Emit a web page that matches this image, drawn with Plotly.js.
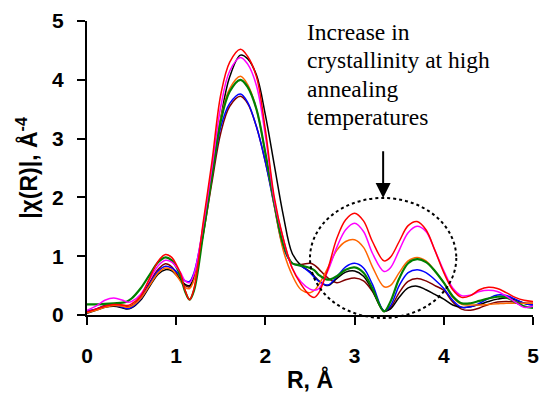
<!DOCTYPE html>
<html>
<head>
<meta charset="utf-8">
<script src="https://cdn.plot.ly/plotly-3.0.1.min.js"></script>
<style>html,body{margin:0;padding:0;background:#fff;}#chart{width:541px;height:394px;}</style>
</head>
<body>
<div id="chart"></div>
<script>
// R grid (Å)
const R = [0, 0.1, 0.2, 0.3, 0.4, 0.45, 0.5, 0.6, 0.7, 0.8, 0.88, 0.95, 1.0, 1.05, 1.1, 1.15, 1.2, 1.3, 1.4, 1.5, 1.6, 1.72, 1.8, 1.9, 2.0, 2.1, 2.2, 2.3, 2.4, 2.5, 2.55, 2.6, 2.7, 2.8, 2.9, 3.0, 3.1, 3.2, 3.33, 3.4, 3.5, 3.6, 3.7, 3.8, 3.9, 4.0, 4.1, 4.2, 4.3, 4.4, 4.5, 4.6, 4.7, 4.8, 4.9, 5.0];

const redY = [0.05, 0.10, 0.15, 0.18, 0.17, 0.16, 0.19, 0.32, 0.62, 0.92, 1.03, 0.98, 0.86, 0.70, 0.42, 0.26, 0.45, 1.55, 2.60, 3.75, 4.30, 4.52, 4.40, 4.05, 3.15, 2.00, 1.30, 0.80, 0.52, 0.33, 0.30, 0.38, 0.78, 1.30, 1.62, 1.73, 1.60, 1.25, 0.92, 0.98, 1.25, 1.52, 1.59, 1.45, 1.10, 0.72, 0.43, 0.30, 0.33, 0.43, 0.47, 0.45, 0.38, 0.30, 0.25, 0.23];

const magentaY = [0.08, 0.15, 0.25, 0.29, 0.25, 0.22, 0.23, 0.35, 0.60, 0.84, 0.93, 0.90, 0.82, 0.72, 0.58, 0.55, 0.70, 1.50, 2.50, 3.55, 4.15, 4.38, 4.27, 3.90, 3.05, 1.95, 1.30, 0.80, 0.56, 0.44, 0.42, 0.45, 0.75, 1.15, 1.45, 1.56, 1.42, 1.05, 0.74, 0.80, 1.10, 1.40, 1.51, 1.42, 1.10, 0.75, 0.46, 0.33, 0.34, 0.40, 0.42, 0.40, 0.32, 0.22, 0.13, 0.15];

const blackY = [0.03, 0.08, 0.13, 0.15, 0.12, 0.10, 0.12, 0.25, 0.48, 0.70, 0.77, 0.75, 0.68, 0.60, 0.52, 0.50, 0.65, 1.40, 2.35, 3.35, 4.05, 4.42, 4.36, 4.08, 3.40, 2.55, 1.70, 1.05, 0.84, 0.74, 0.66, 0.58, 0.50, 0.62, 0.73, 0.75, 0.66, 0.42, 0.07, 0.10, 0.30, 0.46, 0.49, 0.43, 0.35, 0.27, 0.17, 0.13, 0.14, 0.18, 0.23, 0.27, 0.29, 0.26, 0.20, 0.17];

const orangeY = [0.04, 0.08, 0.13, 0.16, 0.15, 0.13, 0.15, 0.28, 0.50, 0.72, 0.80, 0.77, 0.68, 0.57, 0.47, 0.45, 0.60, 1.35, 2.35, 3.35, 3.85, 4.06, 3.92, 3.50, 2.75, 1.85, 1.10, 0.68, 0.43, 0.38, 0.42, 0.52, 0.80, 1.10, 1.25, 1.28, 1.15, 0.82, 0.48, 0.50, 0.72, 0.92, 0.98, 0.92, 0.75, 0.55, 0.30, 0.18, 0.17, 0.17, 0.18, 0.19, 0.20, 0.20, 0.20, 0.20];

const greenY = [0.18, 0.18, 0.19, 0.20, 0.21, 0.23, 0.28, 0.45, 0.68, 0.90, 0.98, 0.93, 0.82, 0.65, 0.40, 0.26, 0.42, 1.35, 2.35, 3.30, 3.80, 4.00, 3.88, 3.50, 2.75, 1.90, 1.20, 0.88, 0.84, 0.80, 0.76, 0.68, 0.60, 0.66, 0.77, 0.81, 0.72, 0.45, 0.06, 0.22, 0.62, 0.88, 0.95, 0.90, 0.75, 0.55, 0.32, 0.20, 0.20, 0.24, 0.28, 0.31, 0.30, 0.22, 0.15, 0.12];

const blueY = [0.07, 0.10, 0.15, 0.17, 0.13, 0.11, 0.13, 0.27, 0.52, 0.75, 0.83, 0.80, 0.74, 0.66, 0.58, 0.57, 0.72, 1.45, 2.35, 3.20, 3.60, 3.76, 3.62, 3.20, 2.60, 1.85, 1.15, 0.88, 0.83, 0.72, 0.64, 0.57, 0.51, 0.65, 0.82, 0.88, 0.80, 0.52, 0.07, 0.15, 0.50, 0.72, 0.77, 0.72, 0.60, 0.45, 0.25, 0.13, 0.14, 0.20, 0.28, 0.34, 0.33, 0.27, 0.20, 0.17];

const brownY = [0.05, 0.10, 0.16, 0.18, 0.16, 0.14, 0.16, 0.30, 0.55, 0.78, 0.87, 0.82, 0.72, 0.60, 0.50, 0.48, 0.62, 1.35, 2.25, 3.10, 3.55, 3.72, 3.60, 3.20, 2.60, 1.90, 1.20, 0.88, 0.86, 0.88, 0.85, 0.78, 0.63, 0.55, 0.60, 0.63, 0.58, 0.40, 0.06, 0.12, 0.38, 0.57, 0.62, 0.58, 0.50, 0.42, 0.22, 0.10, 0.08, 0.12, 0.18, 0.22, 0.23, 0.22, 0.20, 0.20];

const xTicks = [0, 1, 2, 3, 4, 5];
const yTicks = [0, 1, 2, 3, 4, 5];

const noteLines = ['Increase in', 'crystallinity at high', 'annealing', 'temperatures'];

const series = [
  {y: brownY, color: '#800000', w: 1.5},
  {y: blackY, color: '#000000', w: 1.5},
  {y: blueY, color: '#0000FF', w: 1.5},
  {y: orangeY, color: '#FF6600', w: 1.5},
  {y: greenY, color: '#008000', w: 2.2},
  {y: magentaY, color: '#FF00FF', w: 1.5},
  {y: redY, color: '#FF0000', w: 1.5}
];

const traces = series.map(s => ({
  x: R, y: s.y, type: 'scatter', mode: 'lines',
  line: {color: s.color, width: s.w, shape: 'spline', smoothing: 1},
  hoverinfo: 'skip', showlegend: false
}));

const tickFont = {family: 'Liberation Sans, Arial, sans-serif', size: 21, color: '#000', weight: 'bold'};
const titleFont = {family: 'Liberation Sans, Arial, sans-serif', size: 23, color: '#000', weight: 'bold'};

const noteAnnotations = noteLines.map((t, i) => ({
  xref: 'x', yref: 'paper', x: 2.44, y: 0.9626 - i * 0.0963,
  xanchor: 'left', yanchor: 'middle', align: 'left', showarrow: false,
  text: t,
  font: {family: 'Liberation Serif, Times New Roman, serif', size: 23.5, color: '#000'}
}));

const layout = {
  width: 541, height: 394,
  margin: {l: 87, r: 8, t: 21, b: 79},
  paper_bgcolor: '#fff', plot_bgcolor: '#fff',
  showlegend: false,
  xaxis: {
    range: [0, 5], tickvals: xTicks, ticktext: xTicks.map(String),
    ticks: 'outside', ticklen: 8, tickwidth: 2, tickcolor: '#000',
    showline: true, linewidth: 2, linecolor: '#000',
    showgrid: false, zeroline: false, tickfont: tickFont,
    ticklabelstandoff: 13,
    title: {text: 'R, Å', font: titleFont, standoff: 6}
  },
  yaxis: {
    range: [0, 5], tickvals: yTicks, ticktext: yTicks.map(String),
    ticks: 'outside', ticklen: 8, tickwidth: 2, tickcolor: '#000',
    showline: true, linewidth: 2, linecolor: '#000',
    showgrid: false, zeroline: false, tickfont: tickFont,
    ticklabelstandoff: 9,
    title: {text: '|χ(R)|, Å<sup>-4</sup>', font: titleFont, standoff: 8}
  },
  shapes: [{
    type: 'circle', xref: 'paper', yref: 'paper',
    x0: 0.50, x1: 0.828, y0: -0.01, y1: 0.398,
    line: {color: '#000', width: 2, dash: 'dot'}
  }],
  annotations: noteAnnotations.concat([
    {
      xref: 'x', yref: 'y', axref: 'x', ayref: 'y',
      x: 3.32, y: 1.99, ax: 3.32, ay: 2.81, text: '',
      showarrow: true, arrowhead: 2, arrowsize: 1.5, arrowwidth: 2, arrowcolor: '#000'
    }
  ])
};

Plotly.newPlot('chart', traces, layout, {staticPlot: true, displayModeBar: false});
</script>
</body>
</html>
